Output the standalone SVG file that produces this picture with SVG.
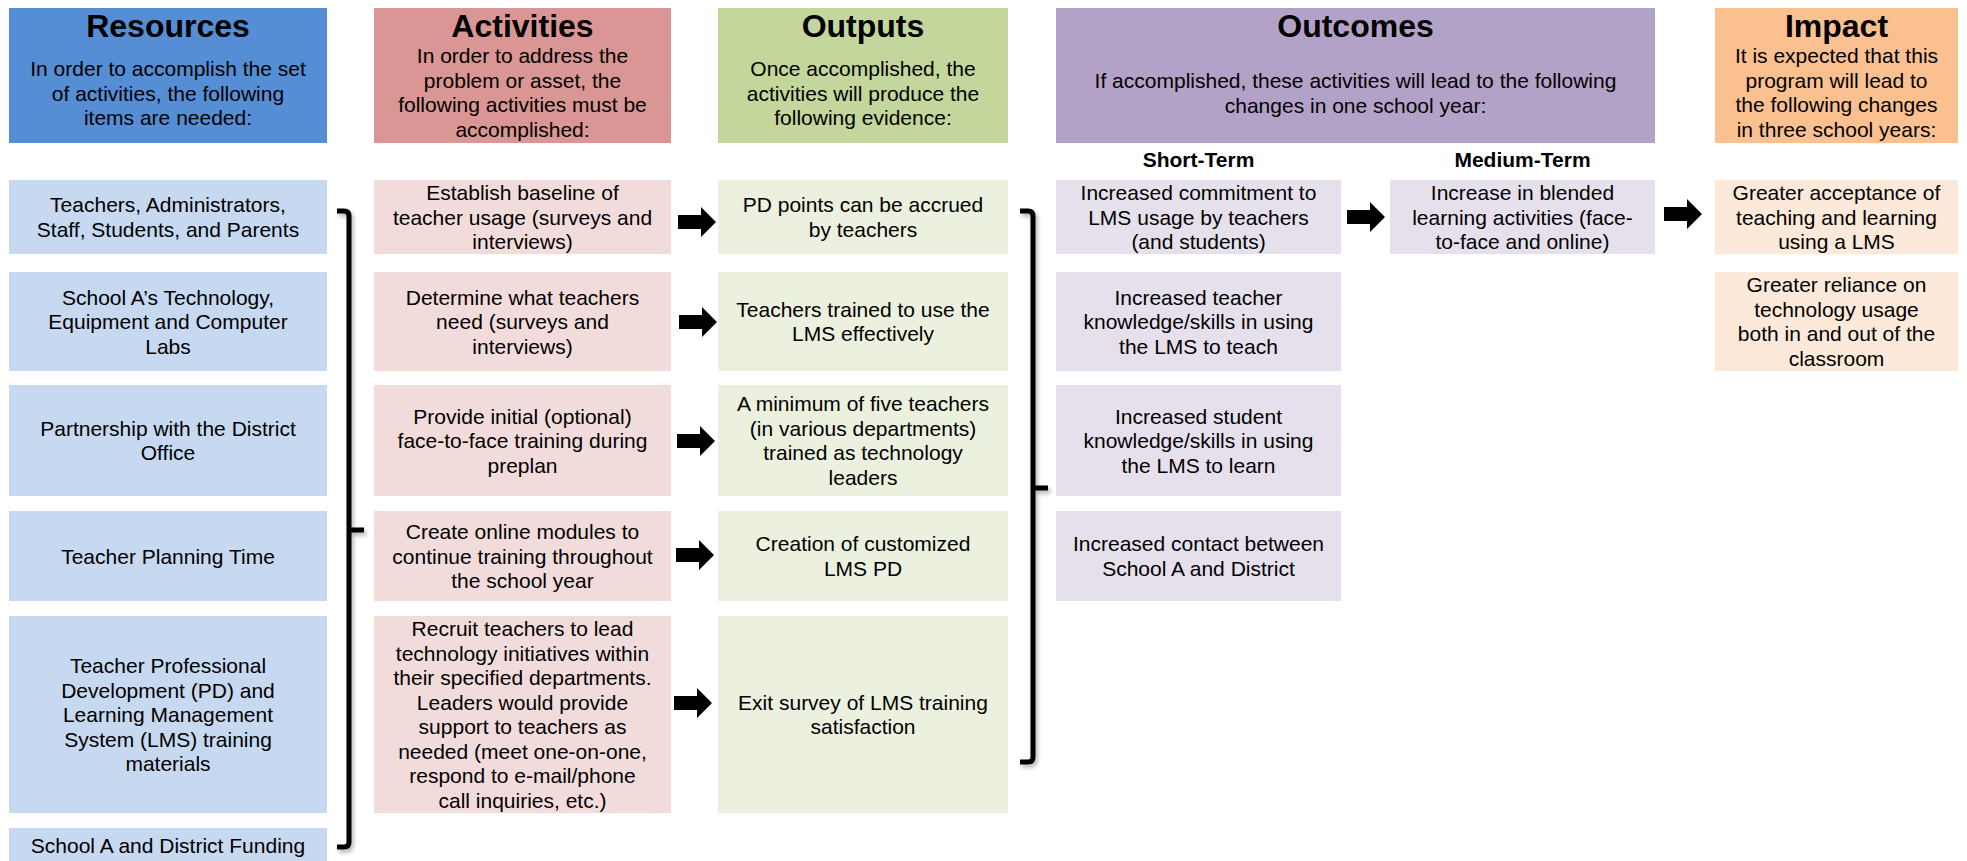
<svg xmlns="http://www.w3.org/2000/svg" xmlns:xlink="http://www.w3.org/1999/xlink" width="1967" height="861" viewBox="0 0 1967 861">
  <style>
    text { font-family: "Liberation Sans", Arial, sans-serif; fill: #000; text-anchor: middle; }
    .title { font-size: 32px; font-weight: bold; }
    .sub { font-size: 21px; }
    .body { font-size: 21px; }
    .term { font-size: 21px; font-weight: bold; }
    .res-h { fill: #558ED5; } .res { fill: #C6D9F1; }
    .act-h { fill: #D99694; } .act { fill: #F2DCDB; }
    .out-h { fill: #C3D69B; } .out { fill: #EBF1DE; }
    .oc-h { fill: #B3A2C7; } .oc { fill: #E6E0EC; }
    .imp-h { fill: #FAC090; } .imp { fill: #FDE9D9; }
    .brace { fill: none; stroke: #000; stroke-width: 5; filter: url(#soft); }
    .arrow { fill: #000; }
  </style>
  <defs>
    <filter id="soft" x="-50%" y="-10%" width="200%" height="120%">
      <feDropShadow dx="2" dy="3" stdDeviation="2" flood-color="#000" flood-opacity="0.3"/>
    </filter>
    <path id="blockArrow" d="M0,-7 H23 V-15 L38,0 L23,15 V7 H0 Z"/>
  </defs>

  <rect width="1967" height="861" fill="#fff"/>

  <!-- Column headers -->
  <g id="hdr-resources">
    <rect class="res-h" x="9" y="8" width="318" height="135"/>
    <text class="title" x="168" y="37">Resources</text>
    <text class="sub" x="168" y="76">In order to accomplish the set</text>
    <text class="sub" x="168" y="100.5">of activities, the following</text>
    <text class="sub" x="168" y="125">items are needed:</text>
  </g>
  <g id="hdr-activities">
    <rect class="act-h" x="374" y="8" width="297" height="135"/>
    <text class="title" x="522.5" y="37">Activities</text>
    <text class="sub" x="522.5" y="63">In order to address the</text>
    <text class="sub" x="522.5" y="87.5">problem or asset, the</text>
    <text class="sub" x="522.5" y="112">following activities must be</text>
    <text class="sub" x="522.5" y="136.5">accomplished:</text>
  </g>
  <g id="hdr-outputs">
    <rect class="out-h" x="718" y="8" width="290" height="135"/>
    <text class="title" x="863" y="37">Outputs</text>
    <text class="sub" x="863" y="76">Once accomplished, the</text>
    <text class="sub" x="863" y="100.5">activities will produce the</text>
    <text class="sub" x="863" y="125">following evidence:</text>
  </g>
  <g id="hdr-outcomes">
    <rect class="oc-h" x="1056" y="8" width="599" height="135"/>
    <text class="title" x="1355.5" y="37">Outcomes</text>
    <text class="sub" x="1355.5" y="88">If accomplished, these activities will lead to the following</text>
    <text class="sub" x="1355.5" y="112.5">changes in one school year:</text>
  </g>
  <g id="hdr-impact">
    <rect class="imp-h" x="1715" y="8" width="243" height="135"/>
    <text class="title" x="1836.5" y="37">Impact</text>
    <text class="sub" x="1836.5" y="63">It is expected that this</text>
    <text class="sub" x="1836.5" y="87.5">program will lead to</text>
    <text class="sub" x="1836.5" y="112">the following changes</text>
    <text class="sub" x="1836.5" y="136.5">in three school years:</text>
  </g>

  <!-- Outcome sub-headings -->
  <text class="term" x="1198.5" y="167">Short-Term</text>
  <text class="term" x="1522.5" y="167">Medium-Term</text>

  <!-- Resources -->
  <g id="res-1">
    <rect class="res" x="9" y="180" width="318" height="74"/>
    <text class="body" x="168" y="212.25">Teachers, Administrators,</text>
    <text class="body" x="168" y="236.75">Staff, Students, and Parents</text>
  </g>
  <g id="res-2">
    <rect class="res" x="9" y="272" width="318" height="99"/>
    <text class="body" x="168" y="304.5">School A’s Technology,</text>
    <text class="body" x="168" y="329">Equipment and Computer</text>
    <text class="body" x="168" y="353.5">Labs</text>
  </g>
  <g id="res-3">
    <rect class="res" x="9" y="385" width="318" height="111"/>
    <text class="body" x="168" y="435.75">Partnership with the District</text>
    <text class="body" x="168" y="460.25">Office</text>
  </g>
  <g id="res-4">
    <rect class="res" x="9" y="511" width="318" height="90"/>
    <text class="body" x="168" y="563.5">Teacher Planning Time</text>
  </g>
  <g id="res-5">
    <rect class="res" x="9" y="616" width="318" height="197"/>
    <text class="body" x="168" y="673">Teacher Professional</text>
    <text class="body" x="168" y="697.5">Development (PD) and</text>
    <text class="body" x="168" y="722">Learning Management</text>
    <text class="body" x="168" y="746.5">System (LMS) training</text>
    <text class="body" x="168" y="771">materials</text>
  </g>
  <g id="res-6">
    <rect class="res" x="9" y="828" width="318" height="50"/>
    <text class="body" x="168" y="853">School A and District Funding</text>
  </g>

  <!-- Activities -->
  <g id="act-1">
    <rect class="act" x="374" y="180" width="297" height="74"/>
    <text class="body" x="522.5" y="200">Establish baseline of</text>
    <text class="body" x="522.5" y="224.5">teacher usage (surveys and</text>
    <text class="body" x="522.5" y="249">interviews)</text>
  </g>
  <g id="act-2">
    <rect class="act" x="374" y="272" width="297" height="99"/>
    <text class="body" x="522.5" y="304.5">Determine what teachers</text>
    <text class="body" x="522.5" y="329">need (surveys and</text>
    <text class="body" x="522.5" y="353.5">interviews)</text>
  </g>
  <g id="act-3">
    <rect class="act" x="374" y="385" width="297" height="111"/>
    <text class="body" x="522.5" y="423.5">Provide initial (optional)</text>
    <text class="body" x="522.5" y="448">face-to-face training during</text>
    <text class="body" x="522.5" y="472.5">preplan</text>
  </g>
  <g id="act-4">
    <rect class="act" x="374" y="511" width="297" height="90"/>
    <text class="body" x="522.5" y="539">Create online modules to</text>
    <text class="body" x="522.5" y="563.5">continue training throughout</text>
    <text class="body" x="522.5" y="588">the school year</text>
  </g>
  <g id="act-5">
    <rect class="act" x="374" y="616" width="297" height="197"/>
    <text class="body" x="522.5" y="636.25">Recruit teachers to lead</text>
    <text class="body" x="522.5" y="660.75">technology initiatives within</text>
    <text class="body" x="522.5" y="685.25">their specified departments.</text>
    <text class="body" x="522.5" y="709.75">Leaders would provide</text>
    <text class="body" x="522.5" y="734.25">support to teachers as</text>
    <text class="body" x="522.5" y="758.75">needed (meet one-on-one,</text>
    <text class="body" x="522.5" y="783.25">respond to e-mail/phone</text>
    <text class="body" x="522.5" y="807.75">call inquiries, etc.)</text>
  </g>

  <!-- Outputs -->
  <g id="out-1">
    <rect class="out" x="718" y="180" width="290" height="74"/>
    <text class="body" x="863" y="212.25">PD points can be accrued</text>
    <text class="body" x="863" y="236.75">by teachers</text>
  </g>
  <g id="out-2">
    <rect class="out" x="718" y="272" width="290" height="99"/>
    <text class="body" x="863" y="316.75">Teachers trained to use the</text>
    <text class="body" x="863" y="341.25">LMS effectively</text>
  </g>
  <g id="out-3">
    <rect class="out" x="718" y="385" width="290" height="111"/>
    <text class="body" x="863" y="411.25">A minimum of five teachers</text>
    <text class="body" x="863" y="435.75">(in various departments)</text>
    <text class="body" x="863" y="460.25">trained as technology</text>
    <text class="body" x="863" y="484.75">leaders</text>
  </g>
  <g id="out-4">
    <rect class="out" x="718" y="511" width="290" height="90"/>
    <text class="body" x="863" y="551.25">Creation of customized</text>
    <text class="body" x="863" y="575.75">LMS PD</text>
  </g>
  <g id="out-5">
    <rect class="out" x="718" y="616" width="290" height="197"/>
    <text class="body" x="863" y="709.75">Exit survey of LMS training</text>
    <text class="body" x="863" y="734.25">satisfaction</text>
  </g>

  <!-- Short-term outcomes -->
  <g id="short-1">
    <rect class="oc" x="1056" y="180" width="285" height="74"/>
    <text class="body" x="1198.5" y="200">Increased commitment to</text>
    <text class="body" x="1198.5" y="224.5">LMS usage by teachers</text>
    <text class="body" x="1198.5" y="249">(and students)</text>
  </g>
  <g id="short-2">
    <rect class="oc" x="1056" y="272" width="285" height="99"/>
    <text class="body" x="1198.5" y="304.5">Increased teacher</text>
    <text class="body" x="1198.5" y="329">knowledge/skills in using</text>
    <text class="body" x="1198.5" y="353.5">the LMS to teach</text>
  </g>
  <g id="short-3">
    <rect class="oc" x="1056" y="385" width="285" height="111"/>
    <text class="body" x="1198.5" y="423.5">Increased student</text>
    <text class="body" x="1198.5" y="448">knowledge/skills in using</text>
    <text class="body" x="1198.5" y="472.5">the LMS to learn</text>
  </g>
  <g id="short-4">
    <rect class="oc" x="1056" y="511" width="285" height="90"/>
    <text class="body" x="1198.5" y="551.25">Increased contact between</text>
    <text class="body" x="1198.5" y="575.75">School A and District</text>
  </g>

  <!-- Medium-term outcome -->
  <g id="medium-1">
    <rect class="oc" x="1390" y="180" width="265" height="74"/>
    <text class="body" x="1522.5" y="200">Increase in blended</text>
    <text class="body" x="1522.5" y="224.5">learning activities (face-</text>
    <text class="body" x="1522.5" y="249">to-face and online)</text>
  </g>

  <!-- Impact -->
  <g id="impact-1">
    <rect class="imp" x="1715" y="180" width="243" height="74"/>
    <text class="body" x="1836.5" y="200">Greater acceptance of</text>
    <text class="body" x="1836.5" y="224.5">teaching and learning</text>
    <text class="body" x="1836.5" y="249">using a LMS</text>
  </g>
  <g id="impact-2">
    <rect class="imp" x="1715" y="272" width="243" height="99"/>
    <text class="body" x="1836.5" y="292.25">Greater reliance on</text>
    <text class="body" x="1836.5" y="316.75">technology usage</text>
    <text class="body" x="1836.5" y="341.25">both in and out of the</text>
    <text class="body" x="1836.5" y="365.75">classroom</text>
  </g>

  <!-- Connectors: braces and block arrows -->
  <g id="connectors">
    <path class="brace" d="M337,211 H344 Q349,211 349,216 V842 Q349,847 344,847 H337 M349,530 H364"/>
    <path class="brace" d="M1020,211 H1028 Q1033,211 1033,216 V757 Q1033,762 1028,762 H1020 M1033,488 H1048"/>

    <use class="arrow" xlink:href="#blockArrow" href="#blockArrow" x="678" y="222"/>
    <use class="arrow" xlink:href="#blockArrow" href="#blockArrow" x="679" y="322"/>
    <use class="arrow" xlink:href="#blockArrow" href="#blockArrow" x="677" y="441"/>
    <use class="arrow" xlink:href="#blockArrow" href="#blockArrow" x="676" y="555"/>
    <use class="arrow" xlink:href="#blockArrow" href="#blockArrow" x="674" y="703"/>
    <use class="arrow" xlink:href="#blockArrow" href="#blockArrow" x="1347" y="217"/>
    <use class="arrow" xlink:href="#blockArrow" href="#blockArrow" x="1664" y="214"/>
  </g>
</svg>
